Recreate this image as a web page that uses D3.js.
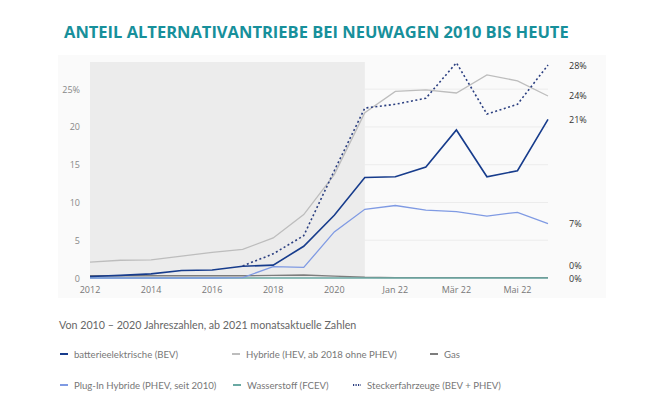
<!DOCTYPE html>
<html><head><meta charset="utf-8">
<script src="https://cdn.jsdelivr.net/npm/d3@7"></script>
<style>
body{margin:0;background:#fff;font-family:"Open Sans",sans-serif}
svg text{font-family:"Open Sans",sans-serif}
svg text.light{font-family:Lato,sans-serif}
</style></head>
<body><svg></svg>
<script>
const categories = ["2012","2013","2014","2015","2016","2017","2018","2019","2020","2021","Jan 22","Feb 22","Mär 22","Apr 22","Mai 22","Jun 22"]
const tickLabels = ["2012","2014","2016","2018","2020","Jan 22","Mär 22","Mai 22"]
const yTicks = [0, 5, 10, 15, 20, 25]

const bev = [0.2,0.35,0.55,1.0,1.05,1.55,1.7,4.2,8.3,13.3,13.4,14.7,19.6,13.4,14.2,21.0]
const hybrid = [2.1,2.35,2.4,2.9,3.4,3.8,5.3,8.4,13.7,21.9,24.7,24.9,24.5,26.9,26.1,24.1]
const gas = [0.3,0.3,0.3,0.3,0.3,0.3,0.35,0.4,0.25,0.1,0.05,0.05,0.05,0.05,0.05,0.05]
const phev = [0,0,0,0,0,0.05,1.5,1.4,6.1,9.1,9.6,9.0,8.8,8.2,8.7,7.2]
const fcev = [0,0,0,0,0,0,0,0,0,0,0,0,0,0,0,0]
const stecker = [null,null,null,null,null,1.6,3.2,5.6,14.2,22.5,23.0,23.8,28.5,21.7,23.0,28.2]

const series = [
  {name:"batterieelektrische (BEV)", values:bev, color:"#173c8c", label:"21%"},
  {name:"Hybride (HEV, ab 2018 ohne PHEV)", values:hybrid, color:"#bdbdbd", label:"24%"},
  {name:"Gas", values:gas, color:"#7d7d7d", label:"0%"},
  {name:"Plug-In Hybride (PHEV, seit 2010)", values:phev, color:"#7f9ae3", label:"7%"},
  {name:"Wasserstoff (FCEV)", values:fcev, color:"#6aa9a3", label:"0%"},
  {name:"Steckerfahrzeuge (BEV + PHEV)", values:stecker, color:"#2b3f80", label:"28%", dash:"2,2.5"}
]

const svg = d3.select("svg").attr("width", 662).attr("height", 414)

svg.append("text")
  .attr("x", 64).attr("y", 38)
  .attr("fill", "#17909b").attr("font-size", 16.5).attr("font-weight", 700)
  .text("ANTEIL ALTERNATIVANTRIEBE BEI NEUWAGEN 2010 BIS HEUTE")

svg.append("rect").attr("x", 58).attr("y", 55).attr("width", 548).attr("height", 243).attr("fill", "#fafafa")

const x = d3.scalePoint().domain(categories).range([90, 548])
const y = d3.scaleLinear().domain([0, 28.6]).range([278, 62])

svg.append("rect")
  .attr("x", x("2012")).attr("y", y(28.6))
  .attr("width", x("2021") - x("2012")).attr("height", y(0) - y(28.6))
  .attr("fill", "#ececec")

svg.selectAll("line.grid").data(yTicks.slice(1)).enter().append("line")
  .attr("x1", x("2021")).attr("x2", 548)
  .attr("y1", d => y(d)).attr("y2", d => y(d))
  .attr("stroke", "#ececec")

svg.selectAll("text.yt").data(yTicks).enter().append("text")
  .attr("x", 80).attr("y", d => y(d) + 3.5)
  .attr("text-anchor", "end").attr("font-size", 9).attr("fill", "#888")
  .text(d => d === 25 ? "25%" : d)

svg.selectAll("text.xt").data(tickLabels).enter().append("text")
  .attr("x", d => x(d)).attr("y", 293)
  .attr("text-anchor", "middle").attr("font-size", 9).attr("fill", "#777")
  .text(d => d)

const line = d3.line()
  .defined(d => d != null)
  .x((d, i) => x(categories[i]))
  .y(d => y(d))

const order = [1, 2, 4, 3, 0, 5]
order.forEach(k => {
  const s = series[k]
  svg.append("path")
    .attr("d", line(s.values))
    .attr("fill", "none").attr("stroke", s.color)
    .attr("stroke-width", k === 0 || k === 5 ? 1.6 : 1.3)
    .attr("stroke-dasharray", s.dash || null)
})

// end labels
const endLabels = [
  {s:5, dy:0}, {s:1, dy:0}, {s:0, dy:0}, {s:3, dy:0}, {s:2, dy:-12}, {s:4, dy:0}
]
endLabels.forEach(e => {
  const s = series[e.s]
  const v = s.values[s.values.length - 1]
  svg.append("text")
    .attr("x", 569).attr("y", y(v) + 3.5 + e.dy)
    .attr("font-size", 9).attr("fill", "#333")
    .text(s.label)
})

svg.append("text").attr("class", "light")
  .attr("x", 59).attr("y", 329)
  .attr("font-size", 10.7).attr("fill", "#666")
  .text("Von 2010 – 2020 Jahreszahlen, ab 2021 monatsaktuelle Zahlen")

const legPos = [[60, 354], [232, 354], [430, 354], [60, 385], [233, 385], [353, 385]]
series.forEach((s, i) => {
  const g = svg.append("g")
    .attr("transform", `translate(${legPos[i][0]}, ${legPos[i][1]})`)
  g.append("line").attr("x1", 0).attr("x2", 8).attr("y1", 0).attr("y2", 0)
    .attr("stroke", s.color).attr("stroke-width", 2)
    .attr("stroke-dasharray", s.dash ? "1.2,1.3" : null)
  g.append("text").attr("class", "light").attr("x", 14).attr("y", 3.5)
    .attr("font-size", 9.6).attr("fill", "#777")
    .text(s.name)
})
</script></body></html>
